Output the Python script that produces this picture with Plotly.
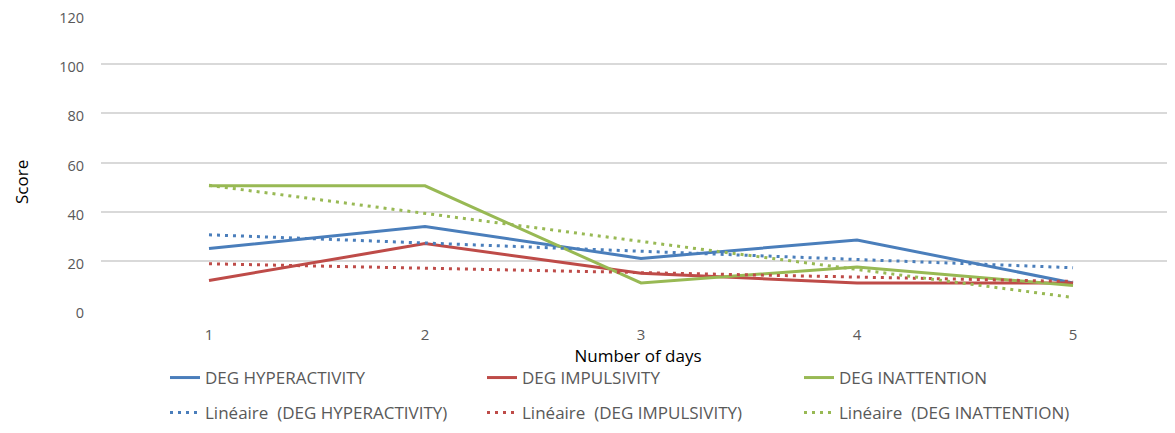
import numpy as np
import plotly.graph_objects as go

days = [1, 2, 3, 4, 5]
hyperactivity = [25, 34, 21, 28.5, 11]
impulsivity = [12, 27, 15, 11, 11]
inattention = [50.5, 50.5, 11, 17.5, 10]

series_names = ["DEG HYPERACTIVITY", "DEG IMPULSIVITY", "DEG INATTENTION"]
trend_names = ["Linéaire  (DEG HYPERACTIVITY)", "Linéaire  (DEG IMPULSIVITY)", "Linéaire  (DEG INATTENTION)"]
colors = ["#4a7ebb", "#be4b48", "#98b954"]
y_ticks = [0, 20, 40, 60, 80, 100, 120]

FONT = "Open Sans"
GRAY = "#595959"

fig = go.Figure()
all_series = [hyperactivity, impulsivity, inattention]

for name, vals, col in zip(series_names, all_series, colors):
    fig.add_trace(go.Scatter(
        x=days, y=vals, mode="lines", name=name,
        line=dict(color=col, width=3), legend="legend",
    ))

x_arr = np.array(days, dtype=float)
for name, vals, col in zip(trend_names, all_series, colors):
    slope, intercept = np.polyfit(x_arr, np.array(vals, dtype=float), 1)
    fig.add_trace(go.Scatter(
        x=[days[0], days[-1]], y=[slope * days[0] + intercept, slope * days[-1] + intercept],
        mode="lines", name=name,
        line=dict(color=col, width=3, dash="3px,5px"), legend="legend2",
    ))

# page has an 8px body margin
OFF = 8
W, H = 1175 - OFF, 433 - OFF
ml, mr, mt = 101 - OFF, 0, 15 - OFF
plot_bottom = 310 - OFF
mb = H - plot_bottom
pw = W - ml - mr
ph = H - mt - mb

def px_x(page_x):
    return (page_x - OFF - ml) / pw

def px_y(page_y):
    return (plot_bottom - (page_y - OFF)) / ph

legend_common = dict(
    orientation="h", font=dict(family=FONT, size=17, color=GRAY),
    entrywidth=272, entrywidthmode="pixels", bgcolor="rgba(0,0,0,0)",
    xanchor="left", yanchor="middle", itemclick=False, itemdoubleclick=False,
)

fig.update_layout(
    width=W, height=H,
    margin=dict(l=ml, r=mr, t=mt, b=mb),
    paper_bgcolor="white", plot_bgcolor="white",
    font=dict(family=FONT, size=15, color=GRAY),
    showlegend=True,
    legend=dict(x=px_x(165), y=px_y(378), **legend_common),
    legend2=dict(x=px_x(165), y=px_y(413), **legend_common),
    xaxis=dict(
        range=[0.5, 5.472], tickmode="array", tickvals=days,
        ticktext=[str(d) for d in days], showgrid=False, zeroline=False,
        showline=False, ticks="", ticklabelstandoff=14,
        tickfont=dict(family=FONT, size=15, color=GRAY),
        title=dict(text="Number of days", font=dict(family=FONT, size=17, color="black"), standoff=0),
        automargin=False,
    ),
    yaxis=dict(
        range=[0, 120], tickmode="array", tickvals=y_ticks,
        showgrid=True, gridcolor="#d9d9d9", gridwidth=1.5,
        zeroline=False, showline=False, ticks="", ticklabelstandoff=16,
        ticklabeloverflow="allow", automargin=False, ticklabelshift=3,
        tickfont=dict(family=FONT, size=14.5, color=GRAY),
    ),
    annotations=[dict(
        text="Score", textangle=-90, xref="paper", yref="paper",
        x=px_x(21), y=px_y(182), xanchor="center", yanchor="middle",
        showarrow=False, font=dict(family=FONT, size=17, color="black"),
    )],
)

fig.write_html("out.html")
